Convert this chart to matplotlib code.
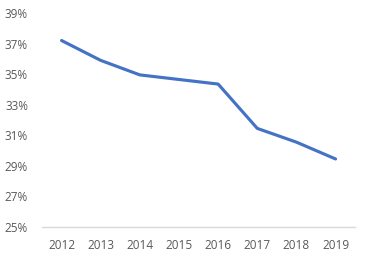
import matplotlib
matplotlib.use("Agg")
import matplotlib.pyplot as plt
from matplotlib.ticker import FuncFormatter

# Données
annees = ['2012', '2013', '2014', '2015', '2016', '2017', '2018', '2019']
valeurs = [37.2, 35.9, 34.95, 34.65, 34.35, 31.45, 30.55, 29.45]
ticks_y = [25, 27, 29, 31, 33, 35, 37, 39]

plt.rcParams['font.family'] = ['Open Sans', 'DejaVu Sans']

fig = plt.figure(figsize=(3.65, 2.6), dpi=100)
ax = fig.add_axes([0.115, 0.127, 0.858, 0.823])

x = range(len(annees))
ax.plot(x, valeurs, color='#4472C4', linewidth=2.25, solid_capstyle='round')

ax.set_xlim(-0.5, len(annees) - 0.5)
ax.set_ylim(25, 39)
ax.set_xticks(list(x))
ax.set_xticklabels(annees)
ax.set_yticks(ticks_y)
ax.yaxis.set_major_formatter(FuncFormatter(lambda v, p: f"{v:.0f}%"))

for s in ['top', 'right', 'left']:
    ax.spines[s].set_visible(False)
ax.spines['bottom'].set_color('#D9D9D9')
ax.spines['bottom'].set_linewidth(1)
ax.tick_params(axis='both', length=0, labelsize=8.5, colors='#595959')
ax.tick_params(axis='x', pad=9)
ax.tick_params(axis='y', pad=10)

fig.savefig('out.png', dpi=100)
